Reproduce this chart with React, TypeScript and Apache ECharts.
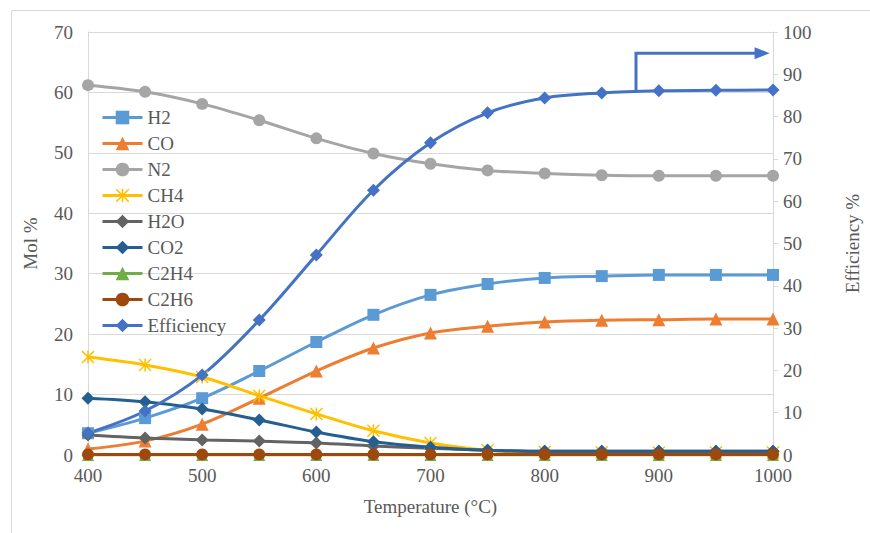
import React, { useEffect, useRef } from "react";
import * as echarts from "echarts";

const temps = [400, 450, 500, 550, 600, 650, 700, 750, 800, 850, 900, 950, 1000];
const h2 = [3.6, 6.1, 9.4, 13.9, 18.7, 23.2, 26.5, 28.3, 29.3, 29.6, 29.8, 29.8, 29.8];
const co = [1.0, 2.3, 5.1, 9.4, 13.9, 17.7, 20.2, 21.3, 22.0, 22.3, 22.4, 22.5, 22.5];
const n2 = [61.2, 60.1, 58.1, 55.4, 52.4, 49.9, 48.2, 47.1, 46.6, 46.3, 46.2, 46.2, 46.2];
const ch4 = [16.2, 14.9, 12.9, 9.8, 6.8, 4.0, 2.0, 0.8, 0.5, 0.4, 0.4, 0.4, 0.4];
const h2o = [3.3, 2.8, 2.5, 2.3, 2.0, 1.5, 1.1, 0.8, 0.6, 0.6, 0.6, 0.6, 0.6];
const co2 = [9.4, 8.8, 7.6, 5.8, 3.8, 2.2, 1.3, 0.8, 0.6, 0.6, 0.6, 0.6, 0.6];
const c2h4 = [0, 0, 0, 0, 0, 0, 0, 0, 0, 0, 0, 0, 0];
const c2h6 = [0.1, 0.1, 0.1, 0.1, 0.1, 0.1, 0.1, 0.1, 0.1, 0.1, 0.1, 0.1, 0.1];
const efficiency = [5.2, 10.4, 18.9, 31.9, 47.3, 62.6, 73.8, 80.9, 84.4, 85.6, 86.1, 86.2, 86.3];

const FONT = "Liberation Serif";
const TXT = "#595959";
const GRID = "#d9d9d9";
const FS = 19;

const asterisk =
  "path://M4.4,0 L5.6,0 L5.6,10 L4.4,10 Z M0,0.8 L0.8,0 L10,9.2 L9.2,10 Z M9.2,0 L10,0.8 L0.8,10 L0,9.2 Z";

function pairs(v: number[]) {
  return temps.map((t, i) => [t, v[i]]);
}

function mk(name: string, data: number[], color: string, symbol: string, size: number, yAxisIndex = 0) {
  return {
    name,
    type: "line",
    yAxisIndex,
    data: pairs(data),
    smooth: 0.35,
    symbol,
    symbolSize: size,
    lineStyle: { color, width: 3 },
    itemStyle: { color },
    z: 2,
  };
}

export default function App() {
  const ref = useRef<HTMLDivElement>(null);
  useEffect(() => {
    const chart = echarts.init(ref.current!, null, { renderer: "svg" });
    chart.setOption({
      animation: false,
      backgroundColor: "#fff",
      textStyle: { fontFamily: FONT },
      grid: { left: 88, right: 95, top: 32, bottom: 78 },
      legend: {
        orient: "vertical",
        left: 96,
        top: 103,
        itemWidth: 40,
        itemHeight: 17,
        itemGap: 7,
        lineStyle: { width: 3 },
        textStyle: { fontFamily: FONT, fontSize: FS, color: TXT },
        data: ["H2", "CO", "N2", "CH4", "H2O", "CO2", "C2H4", "C2H6", "Efficiency"],
      },
      xAxis: {
        type: "value",
        min: 400,
        max: 1000,
        interval: 100,
        name: "Temperature (°C)",
        nameLocation: "middle",
        nameGap: 42,
        nameTextStyle: { fontFamily: FONT, fontSize: FS, color: TXT },
        axisLine: { show: true, lineStyle: { color: GRID, width: 1 } },
        axisTick: { show: false },
        splitLine: { show: false },
        axisLabel: { fontFamily: FONT, fontSize: FS, color: TXT, margin: 11, formatter: (v: number) => String(v) },
      },
      yAxis: [
        {
          type: "value",
          min: 0,
          max: 70,
          interval: 10,
          name: "Mol %",
          nameLocation: "middle",
          nameGap: 48,
          nameTextStyle: { fontFamily: FONT, fontSize: FS, color: TXT },
          axisLine: { show: true, lineStyle: { color: GRID, width: 1 } },
          axisTick: { show: false },
          splitLine: { show: true, lineStyle: { color: GRID, width: 1 } },
          axisLabel: { fontFamily: FONT, fontSize: FS, color: TXT, margin: 15 },
        },
        {
          type: "value",
          min: 0,
          max: 100,
          interval: 10,
          position: "right",
          name: "Efficiency %",
          nameLocation: "middle",
          nameGap: 70,
          nameTextStyle: { fontFamily: FONT, fontSize: FS, color: TXT },
          axisLine: { show: true, lineStyle: { color: GRID, width: 1 } },
          axisTick: { show: true, length: 5, lineStyle: { color: GRID } },
          splitLine: { show: false },
          axisLabel: { fontFamily: FONT, fontSize: FS, color: TXT, margin: 10 },
        },
      ],
      series: [
        mk("H2", h2, "#5B9BD5", "rect", 12),
        mk("CO", co, "#ED7D31", "triangle", 13),
        mk("N2", n2, "#A5A5A5", "circle", 12),
        mk("CH4", ch4, "#FFC000", asterisk, 13),
        mk("H2O", h2o, "#636363", "diamond", 13),
        mk("CO2", co2, "#255E91", "diamond", 13),
        mk("C2H4", c2h4, "#70AD47", "triangle", 12),
        mk("C2H6", c2h6, "#9E480E", "circle", 12),
        mk("Efficiency", efficiency, "#4472C4", "diamond", 13, 1),
      ],
    });
    const finder = { xAxisIndex: 0, yAxisIndex: 1 };
    const a = chart.convertToPixel(finder, [880, 86.1]) as number[];
    const b = chart.convertToPixel(finder, [880, 95]) as number[];
    const c = chart.convertToPixel(finder, [997, 95]) as number[];
    chart.setOption({
      graphic: [
        {
          type: "rect",
          left: 9,
          top: 8,
          shape: { width: 900, height: 600 },
          style: { fill: "none", stroke: GRID, lineWidth: 1 },
          silent: true,
          z: -1,
        },
        {
          type: "polyline",
          shape: { points: [a, b, [c[0] - 12, c[1]]] },
          style: { stroke: "#4472C4", lineWidth: 3, fill: "none" },
          z: 10,
        },
        {
          type: "polygon",
          shape: { points: [[c[0] - 15, c[1] - 6], [c[0], c[1]], [c[0] - 15, c[1] + 6]] },
          style: { fill: "#4472C4" },
          z: 10,
        },
      ],
    });
    return () => chart.dispose();
  }, []);
  return <div ref={ref} style={{ position: "fixed", left: 0, top: 0, width: 870, height: 533 }} />;
}
